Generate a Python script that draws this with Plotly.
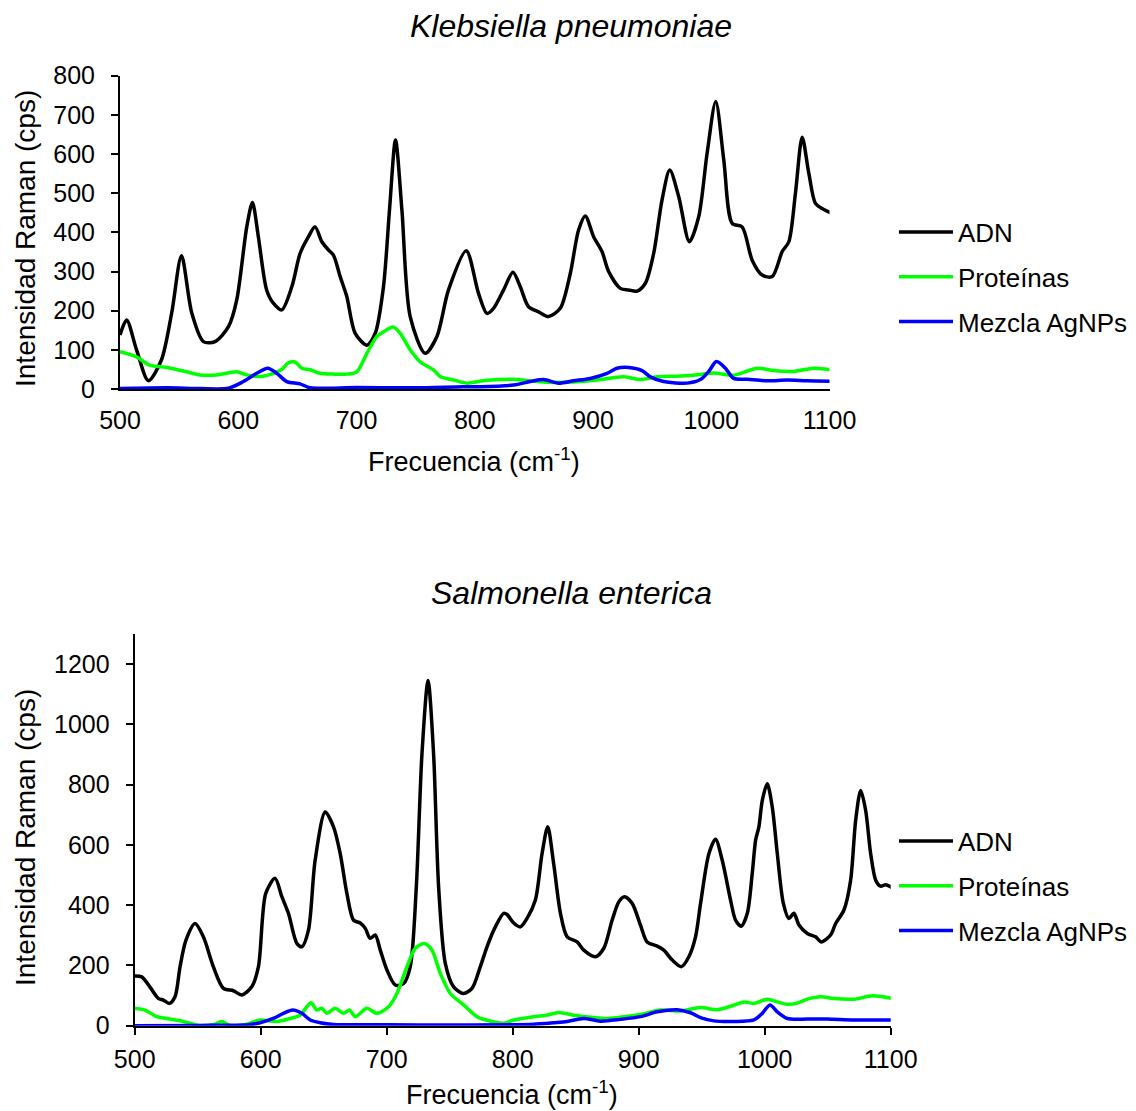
import plotly.graph_objects as go

W, H = 1136, 1111
FONT = "Liberation Sans, Arial, sans-serif"

# ---------------- Klebsiella pneumoniae ----------------
k_adn_x = [500, 505.6, 514, 524, 535, 543.7, 552, 560.7, 570.5, 580.4, 591.7, 598.7, 607.2, 612, 617, 624,
           629.7, 636.8, 645.3, 652.3, 659.4, 665, 670.7, 676.3, 680.5, 686.2, 691.8, 698.9, 708.8, 715.8,
           722.8, 727.9, 733, 738.4, 745.4, 758.1, 768, 777.8, 792.8, 803.2, 810.3, 815.9, 824.4, 832.3,
           838.5, 845.5, 854, 862.4, 872.3, 880.8, 887.8, 893.5, 900.5, 907.6, 913.2, 923.1, 930.1, 937.2,
           944.3, 951.3, 958.4, 964.9, 972.5, 981.5, 989.4, 996.5, 1003.8, 1010.6, 1017.7, 1026.1, 1034.6,
           1043, 1051.5, 1060, 1065.6, 1071.2, 1076.9, 1082.5, 1088.1, 1093.8, 1100.8]
k_adn_y = [138, 176, 100, 21, 74, 194, 340, 194, 121, 121, 159, 227, 414, 476, 389, 253,
           219, 202, 261, 346, 389, 414, 376, 355, 342, 287, 236, 142, 112, 142,
           261, 457, 636, 457, 185, 91, 134, 253, 353, 244, 193, 206, 253, 298,
           261, 210, 197, 185, 206, 295, 406, 442, 389, 351, 300, 257, 253, 250,
           270, 346, 483, 559, 491, 376, 440, 602, 734, 585, 423, 414, 329,
           291, 287, 351, 376, 500, 643, 551, 474, 461, 450]

k_prot_x = [500, 514, 525, 539.5, 556.4, 567.7, 581.8, 598.7, 607.2, 618.5, 629.7, 636.8, 642.4, 648,
            653.8, 660.8, 669.3, 680.5, 691.8, 700.3, 708.8, 717.2, 722.8, 731.3, 737, 745.4, 753.9,
            765.1, 770.8, 782, 793.4, 807.4, 821.6, 832.8, 861, 889.3, 906.2, 926, 940, 954.2, 974,
            990.8, 1002, 1019, 1038.8, 1052.9, 1069.8, 1086.7, 1100.8]
k_prot_y = [95, 82, 61, 55, 44, 36, 36, 44, 36, 32, 40, 50, 67, 69,
            53, 49, 40, 38, 38, 44, 91, 134, 146, 158, 142, 100, 69,
            49, 32, 23, 15, 21, 24, 25, 17, 19, 24, 31, 24, 31, 33,
            37, 41, 35, 53, 47, 45, 53, 49]

k_mez_x = [500, 540, 567.7, 591.7, 604.3, 615.6, 625, 632.6, 641, 652.3, 660.8, 700, 750, 790, 804.6,
           832.8, 847, 858.2, 870.9, 883.6, 897.7, 911.9, 920.3, 930.1, 941.5, 948.5, 959.8, 979.6,
           990.8, 997.9, 1004.4, 1012, 1019, 1030.4, 1047.3, 1064.2, 1081.1, 1100.8]
k_mez_y = [1, 3, 1, 2, 19, 40, 53, 40, 19, 13, 3, 4, 3, 6, 6,
           10, 19, 24, 15, 21, 27, 40, 53, 55, 47, 31, 19, 15,
           24, 45, 70, 53, 27, 25, 21, 23, 21, 20]

# ---------------- Salmonella enterica ----------------
s_adn_x = [500, 505.6, 512, 518.7, 522.7, 527.5, 532, 536, 540.7, 547.9, 554.5, 562.4, 570.4, 578.3,
           585, 592.9, 598.2, 604, 611.4, 616.8, 622, 628.7, 632.7, 637.9, 643.2, 651.2, 657.8, 663.1,
           668.4, 673.7, 679, 683, 686.9, 690.9, 694.9, 700.2, 706.8, 713.4, 718.7, 723.5, 728, 732.8,
           737.2, 741.2, 746.5, 753.1, 761, 767.7, 774.3, 779.6, 786.2, 792.8, 795.5, 800.8, 806.1,
           811.4, 818, 823.3, 827.8, 832.5, 837.9, 843.2, 851.1, 856.4, 865.7, 872.3, 878.9, 884.2,
           888.7, 894.8, 901.4, 906.7, 914.7, 919.9, 926.6, 934, 939.8, 945.1, 949.1, 955.7, 961,
           966.3, 972.9, 976.9, 981.4, 986.2, 990.1, 992.8, 995.4, 998.1, 1002, 1006, 1010, 1014.8,
           1019.2, 1023.2, 1027.2, 1033.8, 1040.4, 1045, 1052.3, 1056.3, 1062.9, 1068.2, 1072.2,
           1076.2, 1080.1, 1084.1, 1088.1, 1092, 1096, 1101.4]
s_adn_y = [165, 162, 129, 91, 85, 74, 96, 196, 284, 339, 295, 196, 124, 116,
           102, 129, 196, 439, 489, 428, 373, 273, 262, 317, 549, 709, 660, 571,
           439, 350, 341, 323, 290, 301, 251, 185, 135, 140, 196, 461, 903, 1146,
           903, 461, 207, 129, 107, 124, 196, 262, 328, 373, 369, 341, 328,
           356, 417, 571, 660, 538, 373, 295, 278, 251, 229, 257, 350, 411,
           428, 406, 334, 278, 264, 251, 218, 196, 229, 295, 406, 571, 619,
           549, 417, 350, 330, 373, 505, 616, 660, 748, 803, 726, 571, 406,
           356, 373, 334, 306, 295, 278, 301, 339, 384, 483, 682,
           781, 715, 571, 483, 463, 468, 458]

s_prot_x = [500, 508.2, 517.5, 525.4, 538.6, 551.9, 562.4, 569.1, 575.7, 588.9, 599.5, 612.8, 623.4,
            631.3, 636.6, 640, 644.6, 648.5, 652.5, 659.1, 665.7, 670.5, 675, 684.3, 692.2, 701.5,
            708.1, 716.1, 722.7, 729.8, 735.9, 742.5, 750.5, 761, 771.7, 783.6, 792.8, 800.8, 816.7,
            827.3, 836.5, 848.4, 864.3, 875, 890.8, 901.4, 917.3, 933.2, 949.1, 962.3, 975.5, 983.5,
            991.4, 1002, 1010, 1017.9, 1025.8, 1033.8, 1044.4, 1055, 1070.9, 1085.5, 1101.4]
s_prot_y = [58, 52, 30, 24, 14, 0, 3, 14, 0, 5, 19, 14, 24,
            35, 63, 76, 52, 58, 41, 58, 41, 52, 30, 58, 41, 63,
            107, 196, 257, 273, 251, 174, 107, 69, 30, 14, 8, 19, 30,
            35, 44, 35, 27, 24, 31, 37, 52, 49, 60, 53, 68, 79,
            74, 88, 79, 71, 75, 88, 96, 90, 88, 99, 90]

s_mez_x = [500, 550, 590, 599.5, 610, 618, 625.5, 632.7, 639.3, 647.2, 657.8, 700, 750, 790, 816.7,
           832.5, 843.2, 856.4, 869.6, 885.5, 901.4, 914.7, 930.6, 941.2, 949.1, 959.6, 975.5, 991.4,
           998.1, 1004.2, 1010, 1017.9, 1033.8, 1049.6, 1070.9, 1101.4]
s_mez_y = [0, 1, 3, 10, 24, 41, 52, 41, 19, 10, 4, 3, 2, 3, 5,
           10, 14, 24, 15, 21, 30, 46, 53, 43, 27, 16, 14, 19,
           41, 69, 46, 24, 22, 22, 19, 19]

series_names = ["ADN", "Proteínas", "Mezcla AgNPs"]
series_colors = ["#000000", "#00FF00", "#0000FF"]

fig = go.Figure()

top = [(k_adn_x, k_adn_y), (k_prot_x, k_prot_y), (k_mez_x, k_mez_y)]
bot = [(s_adn_x, s_adn_y), (s_prot_x, s_prot_y), (s_mez_x, s_mez_y)]

LW = 3.5
for i, (xs, ys) in enumerate(top):
    fig.add_trace(go.Scatter(x=xs, y=ys, mode="lines", name=series_names[i],
                             line=dict(color=series_colors[i], width=LW, shape="spline", smoothing=0.8),
                             xaxis="x", yaxis="y", legend="legend", legendgroup="t%d" % i,
                             hoverinfo="skip"))
for i, (xs, ys) in enumerate(bot):
    fig.add_trace(go.Scatter(x=xs, y=ys, mode="lines", name=series_names[i],
                             line=dict(color=series_colors[i], width=LW, shape="spline", smoothing=0.8),
                             xaxis="x2", yaxis="y2", legend="legend2", legendgroup="b%d" % i,
                             hoverinfo="skip"))

tickfont = dict(family=FONT, size=25, color="#000000")
common = dict(showgrid=False, zeroline=False, showline=True, linecolor="#000000", linewidth=2,
              tickcolor="#000000", tickwidth=2, tickfont=tickfont, automargin=False)
inside = dict(showgrid=False, zeroline=False, showline=False, showticklabels=False, automargin=False,
              ticks="inside", ticklen=7, tickcolor="#000000", tickwidth=2)

top_xd = [120 / W, 829.5 / W]
top_yd = [(H - 389) / H, (H - 75.7) / H]
bot_xd = [134.7 / W, 890.7 / W]
bot_yd = [(H - 1025.7) / H, (H - 634) / H]

legend_common = dict(font=dict(family=FONT, size=26, color="#000000"), bgcolor="rgba(0,0,0,0)",
                     xanchor="left", yanchor="middle", tracegroupgap=8, itemwidth=54)

fig.update_layout(
    width=W, height=H,
    margin=dict(l=0, r=0, t=0, b=0, autoexpand=False),
    paper_bgcolor="white", plot_bgcolor="white",
    font=dict(family=FONT, color="#000000"),
    xaxis=dict(domain=top_xd, anchor="y", range=[500, 1100], dtick=100, tick0=500, ticks="",
               ticklabelstandoff=8, **common),
    yaxis=dict(domain=top_yd, anchor="x", range=[0, 800], dtick=100, ticks="outside", ticklen=7,
               ticklabelstandoff=11, **common),
    yaxis3=dict(overlaying="y", anchor="x", range=[0, 800], dtick=100, **inside),
    xaxis2=dict(domain=bot_xd, anchor="y2", range=[500, 1100], dtick=100, tick0=500, ticks="outside",
                ticklen=7, ticklabelstandoff=3, **common),
    xaxis3=dict(overlaying="x2", anchor="y2", range=[500, 1100], dtick=100, tick0=500, **inside),
    yaxis2=dict(domain=bot_yd, anchor="x2", range=[0, 1300], dtick=200, ticks="outside", ticklen=7,
                ticklabelstandoff=11, **common),
    yaxis4=dict(overlaying="y2", anchor="x2", range=[0, 1300], dtick=200, **inside),
    legend=dict(x=894 / W, y=(H - 277) / H, **legend_common),
    legend2=dict(x=894 / W, y=(H - 886) / H, **legend_common),
    showlegend=True,
)

ann_font = dict(family=FONT, size=27, color="#000000")
ytitle_font = dict(family=FONT, size=28, color="#000000")
title_font = dict(family=FONT, size=32, color="#000000")
annotations = [
    dict(text="<i>Klebsiella pneumoniae</i>", x=571 / W, y=(H - 26) / H, font=title_font),
    dict(text="<i>Salmonella enterica</i>", x=571 / W, y=(H - 593) / H, font=title_font),
    dict(text="Intensidad Raman (cps)", x=25 / W, y=(H - 239) / H, textangle=-90, font=ytitle_font),
    dict(text="Intensidad Raman (cps)", x=25 / W, y=(H - 838) / H, textangle=-90, font=ytitle_font),
    dict(text="Frecuencia (cm<sup>-1</sup>)", x=474 / W, y=(H - 460) / H, font=ann_font),
    dict(text="Frecuencia (cm<sup>-1</sup>)", x=512 / W, y=(H - 1093) / H, font=ann_font),
]
for a in annotations:
    fig.add_annotation(xref="paper", yref="paper", showarrow=False, xanchor="center",
                       yanchor="middle", **a)

fig.write_html("out.html", config={"displayModeBar": False, "staticPlot": True},
               post_script="document.body.style.margin='0';document.body.style.overflow='hidden';")
